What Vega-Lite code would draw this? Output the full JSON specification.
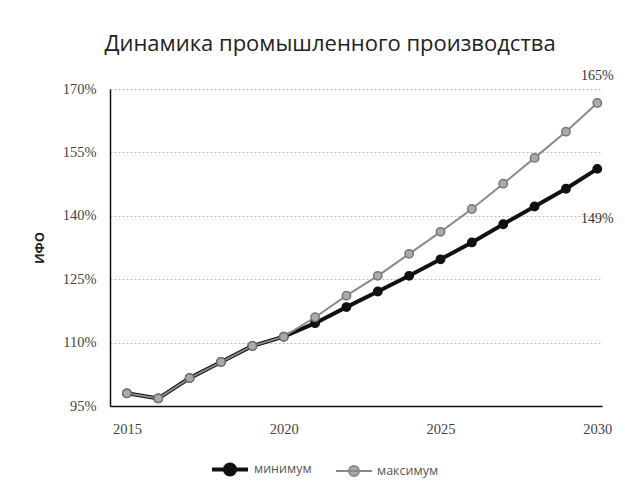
{
  "$schema": "https://vega.github.io/schema/vega-lite/v6.json",
  "width": 492,
  "height": 317,
  "autosize": {"type": "none"},
  "padding": {"left": 110, "top": 89, "right": 23, "bottom": 83},
  "background": "white",
  "title": {
    "text": "Динамика промышленного производства",
    "font": "Open Sans",
    "fontSize": 22,
    "fontWeight": "normal",
    "color": "#222222",
    "anchor": "middle",
    "dx": -26,
    "offset": 13
  },
  "data": {
    "values": [
      {"year": 2015, "series": "минимум", "value": 98.0},
      {"year": 2016, "series": "минимум", "value": 96.8},
      {"year": 2017, "series": "минимум", "value": 101.6},
      {"year": 2018, "series": "минимум", "value": 105.4},
      {"year": 2019, "series": "минимум", "value": 109.2},
      {"year": 2020, "series": "минимум", "value": 111.4},
      {"year": 2021, "series": "минимум", "value": 114.6},
      {"year": 2022, "series": "минимум", "value": 118.4},
      {"year": 2023, "series": "минимум", "value": 122.1},
      {"year": 2024, "series": "минимум", "value": 125.8},
      {"year": 2025, "series": "минимум", "value": 129.7},
      {"year": 2026, "series": "минимум", "value": 133.7},
      {"year": 2027, "series": "минимум", "value": 138.0},
      {"year": 2028, "series": "минимум", "value": 142.2},
      {"year": 2029, "series": "минимум", "value": 146.4},
      {"year": 2030, "series": "минимум", "value": 151.1, "label": "149%"},
      {"year": 2015, "series": "максимум", "value": 98.0},
      {"year": 2016, "series": "максимум", "value": 96.8},
      {"year": 2017, "series": "максимум", "value": 101.6},
      {"year": 2018, "series": "максимум", "value": 105.4},
      {"year": 2019, "series": "максимум", "value": 109.2},
      {"year": 2020, "series": "максимум", "value": 111.4},
      {"year": 2021, "series": "максимум", "value": 116.0},
      {"year": 2022, "series": "максимум", "value": 121.1},
      {"year": 2023, "series": "максимум", "value": 125.8},
      {"year": 2024, "series": "максимум", "value": 131.0},
      {"year": 2025, "series": "максимум", "value": 136.2},
      {"year": 2026, "series": "максимум", "value": 141.6},
      {"year": 2027, "series": "максимум", "value": 147.6},
      {"year": 2028, "series": "максимум", "value": 153.7},
      {"year": 2029, "series": "максимум", "value": 159.9},
      {"year": 2030, "series": "максимум", "value": 166.7, "label": "165%"}
    ]
  },
  "config": {
    "view": {"stroke": null},
    "axis": {
      "labelFont": "Liberation Serif",
      "labelFontSize": 14.5,
      "labelColor": "#444444",
      "ticks": false,
      "domainColor": "#111111",
      "domainWidth": 1.5,
      "gridColor": "#bbbbbb",
      "gridDash": [2, 2],
      "gridWidth": 1
    }
  },
  "encoding": {
    "x": {
      "field": "year",
      "type": "quantitative",
      "scale": {"domain": [2014.46, 2030.15], "nice": false, "zero": false},
      "axis": {"values": [2015, 2020, 2025, 2030], "format": "d", "grid": false, "title": null, "labelPadding": 16}
    },
    "y": {
      "field": "value",
      "type": "quantitative",
      "scale": {"domain": [95, 170], "nice": false, "zero": false},
      "axis": {
        "values": [95, 110, 125, 140, 155, 170],
        "labelExpr": "datum.value + '%'",
        "grid": true,
        "title": "ИФО",
        "titleFont": "Open Sans",
        "titleFontSize": 13,
        "titleFontWeight": "bold",
        "titleColor": "#222222",
        "titlePadding": 16,
        "labelPadding": 14
      }
    }
  },
  "layer": [
    {
      "mark": {"type": "line"},
      "encoding": {
        "detail": {"field": "series"},
        "color": {
          "field": "series",
          "type": "nominal",
          "sort": ["минимум", "максимум"],
          "scale": {"domain": ["минимум", "максимум"], "range": ["#111111", "#8a8a8a"]},
          "legend": {
            "title": null,
            "orient": "none",
            "direction": "horizontal",
            "legendX": 100,
            "legendY": 360,
            "symbolType": "M-1,0L1,0M-0.28,0A0.28,0.28,0,1,0,0.28,0A0.28,0.28,0,1,0,-0.28,0Z",
            "symbolSize": 1296,
            "labelFont": "Open Sans",
            "labelFontSize": 12.5,
            "labelColor": "#555555",
            "labelOffset": 4,
            "columnPadding": 20,
            "encode": {
              "symbols": {
                "update": {
                  "strokeWidth": {"signal": "datum.value === 'минимум' ? 4 : 2"},
                  "stroke": {"signal": "datum.value === 'минимум' ? '#111111' : '#8a8a8a'"},
                  "fill": {"signal": "datum.value === 'минимум' ? '#111111' : '#aaaaaa'"}
                }
              }
            }
          }
        },
        "strokeWidth": {
          "field": "series",
          "type": "nominal",
          "scale": {"domain": ["минимум", "максимум"], "range": [4, 2]},
          "legend": null
        }
      }
    },
    {
      "mark": {"type": "point", "filled": true, "shape": "circle", "size": 70, "opacity": 1, "strokeWidth": 1.5},
      "encoding": {
        "fill": {
          "field": "series",
          "type": "nominal",
          "scale": {"domain": ["минимум", "максимум"], "range": ["#111111", "#aaaaaa"]},
          "legend": null
        },
        "stroke": {
          "field": "series",
          "type": "nominal",
          "scale": {"domain": ["минимум", "максимум"], "range": ["#111111", "#777777"]},
          "legend": null
        }
      }
    },
    {
      "transform": [{"filter": "datum.series === 'максимум' && datum.label"}],
      "mark": {"type": "text", "dy": -27, "font": "Liberation Serif", "fontSize": 14, "color": "#333333"},
      "encoding": {"text": {"field": "label"}}
    },
    {
      "transform": [{"filter": "datum.series === 'минимум' && datum.label"}],
      "mark": {"type": "text", "dy": 50, "font": "Liberation Serif", "fontSize": 14, "color": "#333333"},
      "encoding": {"text": {"field": "label"}}
    }
  ]
}
